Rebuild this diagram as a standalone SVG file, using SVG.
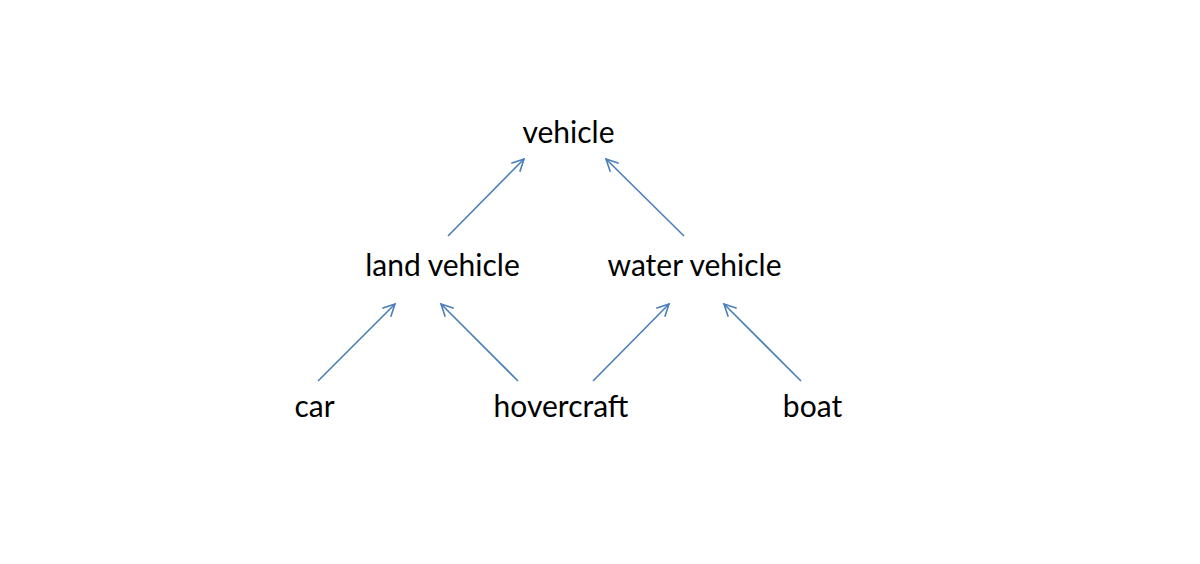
<svg xmlns="http://www.w3.org/2000/svg" width="1200" height="564" viewBox="0 0 1200 564">
<style>
.t{font-family:"Lato","Open Sans","Liberation Sans",sans-serif;font-size:30px;fill:#000;text-anchor:middle}
.c{stroke:#4a7ebb;stroke-width:1.6;fill:none;marker-end:url(#a)}
</style>
<defs>
<marker id="a" markerUnits="userSpaceOnUse" markerWidth="16" markerHeight="16" refX="13" refY="8" orient="auto">
<path d="M1,2 L13,8 L1,14" fill="none" stroke="#4a7ebb" stroke-width="1.6"/>
</marker>
</defs>
<rect width="1200" height="564" fill="#fff"/>
<g id="connectors">
<line class="c" x1="448" y1="236" x2="524" y2="159"/>
<line class="c" x1="684" y1="236" x2="606" y2="159"/>
<line class="c" x1="318" y1="381" x2="395" y2="304"/>
<line class="c" x1="518" y1="381" x2="441" y2="304"/>
<line class="c" x1="593" y1="381" x2="669" y2="304"/>
<line class="c" x1="801" y1="381" x2="724" y2="304"/>
</g>
<g id="vehicle"><text class="t" x="568.5" y="143">vehicle</text></g>
<g id="land-vehicle"><text class="t" x="442.5" y="276">land vehicle</text></g>
<g id="water-vehicle"><text class="t" x="694.5" y="276">water vehicle</text></g>
<g id="car"><text class="t" x="314.5" y="417">car</text></g>
<g id="hovercraft"><text class="t" x="561" y="417">hovercraft</text></g>
<g id="boat"><text class="t" x="812.5" y="417">boat</text></g>
</svg>
